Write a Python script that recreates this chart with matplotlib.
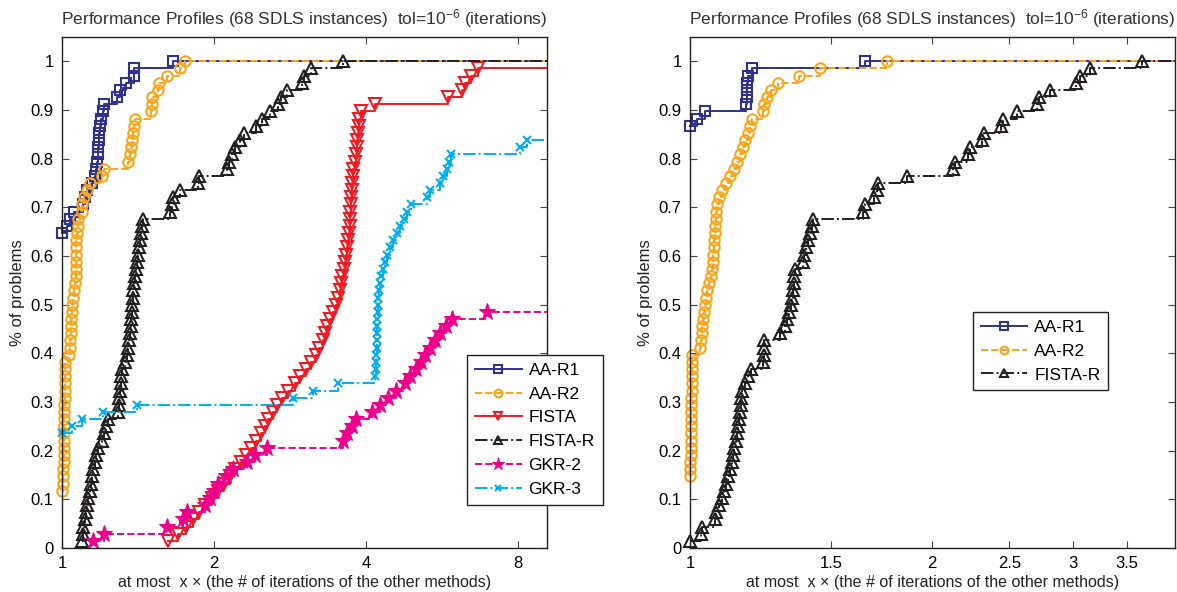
import matplotlib
matplotlib.use('Agg')
import matplotlib.pyplot as plt
from matplotlib.ticker import FixedLocator, FixedFormatter, NullLocator

plt.rcParams['font.family'] = ['Liberation Sans', 'DejaVu Sans']
plt.rcParams['mathtext.fontset'] = 'custom'
plt.rcParams['mathtext.rm'] = 'Liberation Sans'
plt.rcParams['mathtext.it'] = 'Liberation Sans:italic'

# Performance profiles, 68 SDLS instances.
# For each method: number of instances where it was the best (ratio = 1),
# then the sorted ratios of the remaining solved instances.
n_problems = 68

# ---- left panel (all methods) ----
left_aa_r1_best = 44
left_aa_r1 = [1.022, 1.037, 1.058, 1.10, 1.11, 1.12, 1.147, 1.16, 1.17, 1.175,
              1.18, 1.18, 1.185, 1.185, 1.19, 1.195, 1.205, 1.21, 1.283, 1.30,
              1.339, 1.39, 1.39, 1.656]

left_aa_r2_best = 8
left_aa_r2 = [1.005, 1.006, 1.006, 1.007, 1.008, 1.008, 1.009, 1.009, 1.010, 1.010,
              1.011, 1.011, 1.012, 1.012, 1.013, 1.013, 1.014, 1.015,
              1.034, 1.036, 1.038, 1.040, 1.042, 1.044, 1.046, 1.049,
              1.053, 1.056, 1.061, 1.064, 1.065, 1.066, 1.066, 1.067, 1.068, 1.069,
              1.076, 1.077, 1.094, 1.095, 1.105, 1.122, 1.136, 1.20, 1.211, 1.351,
              1.364, 1.37, 1.376, 1.382, 1.388, 1.394, 1.50, 1.505, 1.51,
              1.548, 1.553, 1.612, 1.713, 1.752]

left_fista_best = 0
left_fista = [1.622, 1.697, 1.760, 1.817, 1.868, 1.919, 1.982, 2.037, 2.093, 2.151,
              2.201, 2.262, 2.314, 2.367, 2.422, 2.478, 2.524, 2.558, 2.618, 2.666,
              2.727, 2.803, 2.894, 2.96, 3.042, 3.113, 3.185, 3.229, 3.288, 3.318,
              3.348, 3.395, 3.441, 3.489, 3.52, 3.552, 3.568, 3.585, 3.61, 3.634,
              3.651, 3.668, 3.684, 3.701, 3.71, 3.718, 3.726, 3.735, 3.743, 3.752,
              3.76, 3.769, 3.778, 3.812, 3.83, 3.838, 3.847, 3.856, 3.874, 3.882,
              3.91, 4.167, 5.81, 6.2, 6.29, 6.46, 6.67]

left_fista_r_best = 0
left_fista_r = [1.095, 1.10, 1.103, 1.11, 1.118, 1.123, 1.128, 1.136, 1.141, 1.149,
                1.154, 1.162, 1.17, 1.181, 1.20, 1.211, 1.222, 1.233, 1.291, 1.294,
                1.297, 1.303, 1.306, 1.309, 1.315, 1.333, 1.342, 1.351, 1.36, 1.366,
                1.369, 1.372, 1.375, 1.378, 1.381, 1.384, 1.388, 1.394, 1.40, 1.406,
                1.413, 1.419, 1.426, 1.432, 1.439, 1.445, 1.637, 1.648, 1.659, 1.713,
                1.859, 1.867, 2.122, 2.141, 2.17, 2.20, 2.252, 2.293, 2.421, 2.487,
                2.581, 2.676, 2.712, 2.79, 2.987, 3.015, 3.11, 3.60]

left_gkr2_best = 0
left_gkr2 = [1.152, 1.211, 1.614, 1.736, 1.768, 1.919, 1.964, 2.0, 2.037, 2.112,
             2.181, 2.325, 2.411, 2.547, 3.60, 3.668, 3.752, 3.821, 4.11, 4.263,
             4.422, 4.586, 4.778, 4.888, 5.024, 5.14, 5.234, 5.355, 5.479, 5.606,
             5.761, 5.92, 6.944]

left_gkr3_best = 16
left_gkr3 = [1.047, 1.095, 1.206, 1.408, 2.867, 3.141, 3.52, 4.167,
             4.177, 4.186, 4.186, 4.196, 4.196, 4.205, 4.205, 4.215, 4.224, 4.224,
             4.234, 4.243, 4.263, 4.282, 4.321, 4.36, 4.40, 4.462, 4.523, 4.607,
             4.67, 4.757, 4.82, 4.91, 5.282, 5.355, 5.606, 5.683, 5.787, 5.84,
             5.894, 8.07, 8.33]

# ---- right panel (restarted methods) ----
right_aa_r1_best = 59
right_aa_r1 = [1.019, 1.044, 1.175, 1.176, 1.177, 1.178, 1.18, 1.194, 1.652]

right_aa_r2_best = 10
right_aa_r2 = [1.001, 1.001, 1.002, 1.002, 1.002, 1.003, 1.003, 1.003, 1.004, 1.004,
               1.004, 1.005, 1.005, 1.005, 1.006, 1.006, 1.006,
               1.029, 1.032, 1.034, 1.035, 1.038, 1.041, 1.044, 1.047, 1.05, 1.056,
               1.062, 1.065, 1.067, 1.068, 1.07, 1.071, 1.073, 1.074, 1.076, 1.077,
               1.08, 1.087, 1.096, 1.109, 1.122, 1.135, 1.144, 1.154, 1.164, 1.171,
               1.181, 1.188, 1.195, 1.233, 1.236, 1.247, 1.262, 1.287, 1.367, 1.452,
               1.76]

right_fista_r_best = 1
right_fista_r = [1.032, 1.035, 1.074, 1.077, 1.087, 1.096, 1.102, 1.109, 1.115, 1.122,
                 1.128, 1.131, 1.136, 1.141, 1.144, 1.148, 1.151, 1.154, 1.156, 1.158,
                 1.161, 1.171, 1.181, 1.191, 1.233, 1.235, 1.236, 1.238, 1.295, 1.313,
                 1.321, 1.328, 1.336, 1.34, 1.344, 1.346, 1.348, 1.352, 1.383, 1.387,
                 1.395, 1.403, 1.411, 1.419, 1.423, 1.643, 1.652, 1.695, 1.711, 1.713,
                 1.864, 2.127, 2.139, 2.22, 2.234, 2.311, 2.325, 2.441, 2.455, 2.556,
                 2.707, 2.722, 2.81, 3.027, 3.062, 3.151, 3.658]

left_xmax = 9.13
right_xmax = 4.02
left_xticks = [1, 2, 4, 8]
right_xticks = [1, 1.5, 2, 2.5, 3, 3.5]
yticks = [0, 0.1, 0.2, 0.3, 0.4, 0.5, 0.6, 0.7, 0.8, 0.9, 1]

title = 'Performance Profiles (68 SDLS instances)  tol=10$^{-6}$ (iterations)'
xlabel = 'at most  x \u00d7 (the # of iterations of the other methods)'

C_AA1 = '#2e3192'
C_AA2 = '#f9a51b'
C_FISTA = '#ed1c24'
C_FISTAR = '#231f20'
C_GKR2 = '#ec008c'
C_GKR3 = '#00aeef'


def profile(ax, best, ratios, xmax, label, color, ls, marker, ms, mfc='none', mew=1.5):
    if best > 0:
        xs = [1.0] + ratios
        ys = [best + i for i in range(len(ratios) + 1)]
    else:
        xs = list(ratios)
        ys = [i + 1 for i in range(len(ratios))]
    ys = [v / n_problems for v in ys]
    n = len(xs)
    xs = xs + [xmax]
    ys = ys + [ys[-1]]
    ax.plot(xs, ys, drawstyle='steps-post', color=color, linestyle=ls, lw=1.4,
            marker=marker, markersize=ms, markerfacecolor=mfc,
            markeredgecolor=color, markeredgewidth=mew,
            markevery=list(range(n)), label=label, clip_on=False)


def style(ax, xmax, xticks):
    ax.set_xscale('log')
    ax.set_xlim(1, xmax)
    ax.set_ylim(0, 1.05)
    ax.xaxis.set_major_locator(FixedLocator(xticks))
    ax.xaxis.set_major_formatter(FixedFormatter([('%g' % t) for t in xticks]))
    ax.xaxis.set_minor_locator(NullLocator())
    ax.set_yticks(yticks)
    ax.set_yticklabels([('%g' % t) for t in yticks])
    ax.tick_params(direction='in', top=True, right=True, length=5, width=0.8,
                   labelsize=12, pad=6, color='#444444')
    for s in ax.spines.values():
        s.set_linewidth(1.0)
        s.set_color('#222222')
    ax.set_title(title, fontsize=12.5, color='#333333', pad=9)
    ax.set_xlabel(xlabel, fontsize=11.5, color='#222222', labelpad=3)
    ax.set_ylabel('% of problems', fontsize=12, color='#222222', labelpad=4)


fig = plt.figure(figsize=(11.77, 5.92), dpi=100)
ax1 = fig.add_axes([62 / 1177, 44 / 592, 485 / 1177, 511 / 592])
ax2 = fig.add_axes([690 / 1177, 44 / 592, 485 / 1177, 511 / 592])

profile(ax1, left_aa_r1_best, left_aa_r1, left_xmax, 'AA-R1', C_AA1, '-', 's', 7)
profile(ax1, left_aa_r2_best, left_aa_r2, left_xmax, 'AA-R2', C_AA2, '--', 'o', 7.5)
profile(ax1, left_fista_best, left_fista, left_xmax, 'FISTA', C_FISTA, '-', 'v', 8.5)
profile(ax1, left_fista_r_best, left_fista_r, left_xmax, 'FISTA-R', C_FISTAR, '-.', '^', 8.5)
profile(ax1, left_gkr2_best, left_gkr2, left_xmax, 'GKR-2', C_GKR2, '--', '*', 12.5, mfc=C_GKR2, mew=0.8)
profile(ax1, left_gkr3_best, left_gkr3, left_xmax, 'GKR-3', C_GKR3, '-.', 'x', 5.5)
style(ax1, left_xmax, left_xticks)

profile(ax2, right_aa_r1_best, right_aa_r1, right_xmax, 'AA-R1', C_AA1, '-', 's', 7)
profile(ax2, right_aa_r2_best, right_aa_r2, right_xmax, 'AA-R2', C_AA2, '--', 'o', 7.5)
profile(ax2, right_fista_r_best, right_fista_r, right_xmax, 'FISTA-R', C_FISTAR, '-.', '^', 8.5)
style(ax2, right_xmax, right_xticks)

leg_kw = dict(loc='upper left', fancybox=False, framealpha=1, edgecolor='#222222',
              fontsize=12.5, handlelength=2.7, labelspacing=0.5, borderpad=0.45,
              handletextpad=0.4, borderaxespad=0, numpoints=1, markerscale=0.75)
leg1 = ax1.legend(bbox_to_anchor=(0.835, 0.378), **leg_kw)
leg2 = ax2.legend(bbox_to_anchor=(0.583, 0.462), **leg_kw)
for leg in (leg1, leg2):
    leg.get_frame().set_linewidth(1.0)
    leg.set_clip_on(False)

fig.savefig('out.png', dpi=100)
